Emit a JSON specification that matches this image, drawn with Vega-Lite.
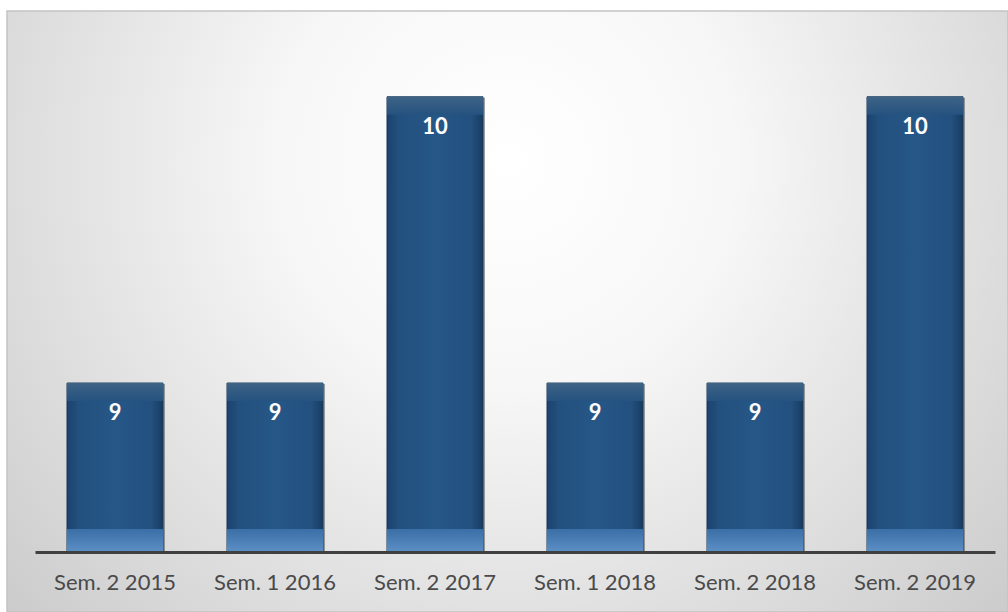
{
  "$schema": "https://vega.github.io/schema/vega-lite/v6.json",
  "width": 1001,
  "height": 601,
  "autosize": "none",
  "padding": {"left": 7, "top": 11, "right": 0, "bottom": 0},
  "background": "#ffffff",
  "config": {"view": {"stroke": null}},
  "data": {"values": [
    {"sem": "Sem. 2 2015", "v": 9},
    {"sem": "Sem. 1 2016", "v": 9},
    {"sem": "Sem. 2 2017", "v": 10},
    {"sem": "Sem. 1 2018", "v": 9},
    {"sem": "Sem. 2 2018", "v": 9},
    {"sem": "Sem. 2 2019", "v": 10}
  ]},
  "layer": [
    {
      "data": {"values": [{"bg": 1}]},
      "mark": {
        "type": "rect",
        "stroke": "#c4c4c4",
        "strokeWidth": 1.5,
        "color": {
          "gradient": "radial",
          "x1": 0.5, "y1": 0.35, "r1": 0,
          "x2": 0.5, "y2": 0.35, "r2": 0.75,
          "stops": [
            {"offset": 0, "color": "#ffffff"},
            {"offset": 0.3, "color": "#f7f7f7"},
            {"offset": 1, "color": "#c4c4c4"}
          ]
        }
      },
      "encoding": {}
    },
    {
      "mark": {"type": "bar", "color": "#505050", "opacity": 0.55, "xOffset": 2, "yOffset": 1},
      "encoding": {
        "x": {"field": "sem", "type": "nominal", "sort": null,
              "scale": {"range": [28, 988], "paddingInner": 0.4, "paddingOuter": 0.2},
              "axis": {"offset": -60, "zindex": 2, "domainColor": "#404040", "domainWidth": 3, "ticks": false,
                       "labelFontSize": 22, "labelFont": "Lato", "labelColor": "#4a4a4a", "labelPadding": 20,
                       "labelAngle": 0, "title": null}},
        "y": {"field": "v", "type": "quantitative", "scale": {"domain": [8.2, 10.3], "nice": false, "zero": false}, "axis": null},
        "y2": {"datum": 8.41}
      }
    },
    {
      "mark": {
        "type": "bar",
        "stroke": "#163656",
        "strokeWidth": 1,
        "color": {
          "gradient": "linear", "x1": 0, "y1": 0, "x2": 1, "y2": 0,
          "stops": [
            {"offset": 0, "color": "#1b426b"},
            {"offset": 0.12, "color": "#23507e"},
            {"offset": 0.5, "color": "#265787"},
            {"offset": 0.88, "color": "#23507e"},
            {"offset": 1, "color": "#183c62"}
          ]
        }
      },
      "encoding": {
        "x": {"field": "sem", "type": "nominal", "sort": null},
        "y": {"field": "v", "type": "quantitative"},
        "y2": {"datum": 8.41}
      }
    },
    {
      "mark": {
        "type": "bar",
        "y2Offset": 18,
        "color": {
          "gradient": "linear", "x1": 0, "y1": 0, "x2": 0, "y2": 1,
          "stops": [
            {"offset": 0, "color": "#3e6385"},
            {"offset": 1, "color": "#25527f"}
          ]
        }
      },
      "encoding": {
        "x": {"field": "sem", "type": "nominal", "sort": null},
        "y": {"field": "v", "type": "quantitative"},
        "y2": {"field": "v"}
      }
    },
    {
      "mark": {
        "type": "bar",
        "yOffset": -23,
        "color": {
          "gradient": "linear", "x1": 0, "y1": 0, "x2": 0, "y2": 1,
          "stops": [
            {"offset": 0, "color": "#3a6ea6"},
            {"offset": 1, "color": "#5b8fc5"}
          ]
        }
      },
      "encoding": {
        "x": {"field": "sem", "type": "nominal", "sort": null},
        "y": {"datum": 8.41},
        "y2": {"datum": 8.41}
      }
    },
    {
      "mark": {"type": "text", "baseline": "top", "dy": 20, "fontSize": 22, "font": "Lato", "fontWeight": "bold", "color": "#ffffff"},
      "encoding": {
        "x": {"field": "sem", "type": "nominal", "sort": null},
        "y": {"field": "v", "type": "quantitative"},
        "text": {"field": "v", "type": "quantitative"}
      }
    }
  ]
}
